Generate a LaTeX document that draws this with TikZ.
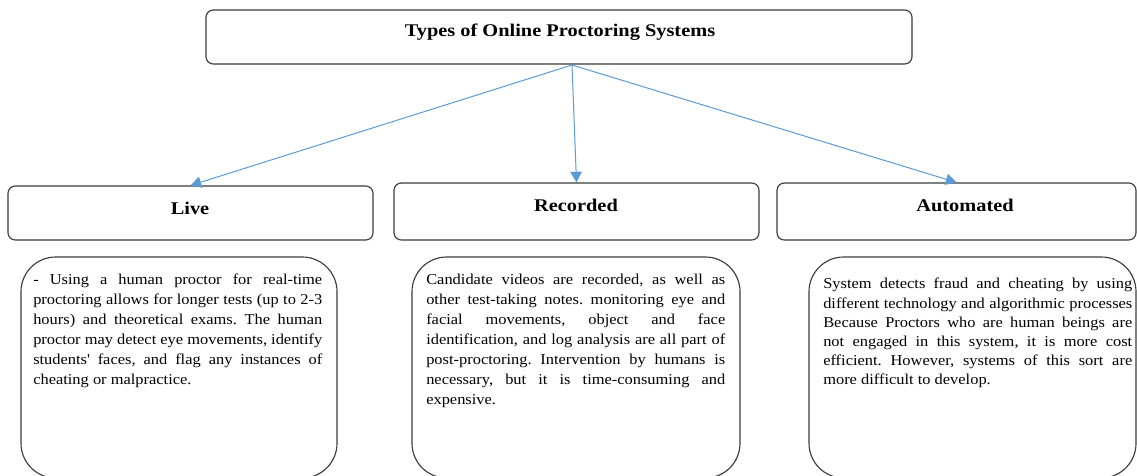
\documentclass[tikz,border=0pt]{standalone}
\usepackage{fontspec}
\usetikzlibrary{arrows.meta,calc}
\newfontfamily\bodyfont[FakeStretch=1.09]{Liberation Serif}
\newfontfamily\headfont[FakeStretch=1.14,BoldFont={Liberation Serif Bold}]{Liberation Serif}
\newlength\jw
% one fully justified line of a description
\newcommand\jline[1]{\makebox[\jw][s]{#1}\\}
\definecolor{boxline}{HTML}{3C3C3C}
\definecolor{arrowblue}{HTML}{5B9BD5}
\tikzset{
  headbox/.style={draw=boxline, line width=0.85pt, rounded corners=5.5pt, fill=white, inner sep=0pt},
  headtext/.style={font=\headfont\bfseries\fontsize{13.4}{16}\selectfont, inner sep=0pt},
  descbox/.style={draw=boxline, line width=0.85pt, rounded corners=26pt, inner sep=0pt},
  desctext/.style={font=\bodyfont\fontsize{11.3}{15}\selectfont, align=justify, inner sep=0pt, anchor=north west},
  link/.style={draw=arrowblue, line width=0.75pt, -{Triangle[length=8pt,width=8.5pt]}}
}
\begin{document}
\begin{tikzpicture}[x=0.75pt, y=-0.75pt]
\useasboundingbox (0,0) rectangle (1137,475);
\fill[white] (0,0) rectangle (1137,475);
\clip (0,0) rectangle (1137,475);

% top-level heading
\node[headbox, minimum width=529.5pt, minimum height=40.5pt] (title) at (559,37) {};
\node[headtext] (titletext) at (560,32) {Types of Online Proctoring Systems};

% category headings
\node[headbox, minimum width=273.75pt, minimum height=40.5pt] (live) at (190.5,213) {};
\node[headtext] (livetext) at (190,208) {Live};
\node[headbox, minimum width=273.75pt, minimum height=42.75pt] (rec) at (576.5,211.5) {};
\node[headtext] (rectext) at (576,205) {Recorded};
\node[headbox, minimum width=269.25pt, minimum height=42.75pt] (auto) at (956.5,211.5) {};
\node[headtext] (autotext) at (965,205) {Automated};

% connectors from the heading
\coordinate (hub) at (572,65);
\draw[link] (hub) -- (live.north);
\draw[link] (hub) -- (rec.north);
\draw[link] (hub) -- (auto.north);

% description panels
\node[descbox, minimum width=237pt, minimum height=165.75pt] (livedesc) at (179,367.5) {};
\node[descbox, minimum width=246pt, minimum height=165.75pt] (recdesc) at (576,367.5) {};
\node[descbox, minimum width=245.25pt, minimum height=165.75pt] (autodesc) at (972.5,367.5) {};

\node[desctext, text width=216.75pt] (livebody) at (33,274) {%
\spaceskip=0pt \xspaceskip=0pt \frenchspacing \setlength\jw{216.75pt}%
\jline{- Using a human proctor for real-time}
\jline{proctoring allows for longer tests (up to 2-3}
\jline{hours) and theoretical exams. The human}
\jline{proctor may detect eye movements, identify}
\jline{students\textquotesingle{} faces, and flag any instances of}
cheating or malpractice.};

\node[desctext, text width=224.25pt] (recbody) at (426,274) {%
\spaceskip=0pt \xspaceskip=0pt \frenchspacing \setlength\jw{224.25pt}%
\jline{Candidate videos are recorded, as well as}
\jline{other test-taking notes. monitoring eye and}
\jline{facial movements, object and face}
\jline{identification, and log analysis are all part of}
\jline{post-proctoring. Intervention by humans is}
\jline{necessary, but it is time-consuming and}
expensive.};

\node[desctext, text width=231.75pt, font=\bodyfont\fontsize{11.3}{14.4}\selectfont] (autobody) at (823,278) {%
\spaceskip=0pt \xspaceskip=0pt \frenchspacing \setlength\jw{231.75pt}%
\jline{System detects fraud and cheating by using}
\jline{different technology and algorithmic processes}
\jline{Because Proctors who are human beings are}
\jline{not engaged in this system, it is more cost}
\jline{efficient. However, systems of this sort are}
more difficult to develop.};
\end{tikzpicture}
\end{document}
